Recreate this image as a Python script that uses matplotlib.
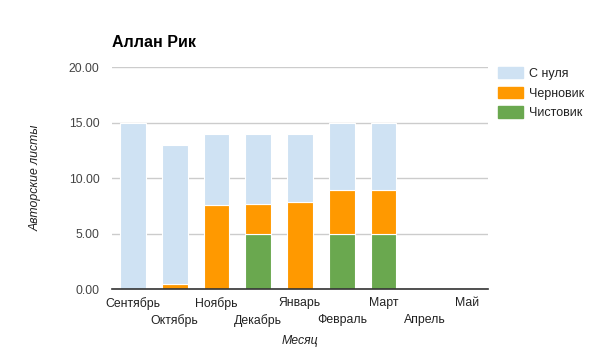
import numpy as np
import matplotlib
matplotlib.use("Agg")
import matplotlib.pyplot as plt
from matplotlib.patches import Patch

# данные
months = ["Сентябрь", "Октябрь", "Ноябрь", "Декабрь", "Январь",
          "Февраль", "Март", "Апрель", "Май"]
chistovik = [0, 0, 0, 5.0, 0, 5.0, 5.0, 0, 0]
chernovik = [0, 0.5, 7.6, 2.7, 7.9, 3.9, 3.9, 0, 0]
s_nulya = [15.0, 12.5, 6.4, 6.3, 6.1, 6.1, 6.1, 0, 0]
y_ticks = [0, 5, 10, 15, 20]

c_blue = "#cfe2f3"
c_orange = "#ff9900"
c_green = "#6aa84f"

plt.rcParams["font.family"] = ["Arial", "Liberation Sans", "DejaVu Sans"]
fs = 8.8

fig = plt.figure(figsize=(5.9, 3.52), dpi=100)
ax = fig.add_axes([0.19, 0.1776, 0.637, 0.632])

x = np.arange(len(months))
w = 0.62
g = np.array(chistovik)
o = np.array(chernovik)
b = np.array(s_nulya)
ax.bar(x, g, w, color=c_green, edgecolor="white", linewidth=0.8, zorder=3)
ax.bar(x, o, w, bottom=g, color=c_orange, edgecolor="white", linewidth=0.8, zorder=3)
ax.bar(x, b, w, bottom=g + o, color=c_blue, edgecolor="white", linewidth=0.8, zorder=3)

ax.set_xlim(-0.5, len(months) - 0.5)
ax.set_ylim(0, 20)
ax.set_yticks(y_ticks)
ax.set_yticklabels(["%.2f" % v for v in y_ticks], fontsize=fs, color="#444444")
ax.yaxis.grid(True, color="#cccccc", linewidth=1, zorder=0)
ax.tick_params(axis="y", length=0, pad=9)
ax.tick_params(axis="x", length=0)
for s in ["top", "right", "left"]:
    ax.spines[s].set_visible(False)
ax.spines["bottom"].set_color("#333333")
ax.spines["bottom"].set_linewidth(1.2)
ax.spines["bottom"].set_zorder(4)

# подписи месяцев в два ряда
ax.set_xticks(x)
ax.set_xticklabels([])
for i, m in enumerate(months):
    dy = -5.5 if i % 2 == 0 else -17.5
    ax.annotate(m, (i, 0), xycoords=("data", "axes fraction"),
                xytext=(0, dy), textcoords="offset points",
                ha="center", va="top", fontsize=fs, color="#222222")

ax.annotate("Месяц", (0.5, 0), xycoords="axes fraction", xytext=(0, -32.5),
            textcoords="offset points", ha="center", va="top",
            fontsize=fs, style="italic", color="#222222")
fig.text(0.06, 0.495, "Авторские листы", rotation=90, ha="center", va="center",
         fontsize=fs, style="italic", color="#222222")
fig.text(0.19, 0.88, "Аллан Рик", fontsize=11.5, fontweight="bold", ha="left", va="center")

handles = [Patch(color=c_blue), Patch(color=c_orange), Patch(color=c_green)]
fig.legend(handles, ["С нуля", "Черновик", "Чистовик"], loc="upper left",
           bbox_to_anchor=(0.844, 0.81), frameon=False, fontsize=9,
           borderpad=0, borderaxespad=0,
           handlelength=2.0, handleheight=1.0, labelspacing=0.55, handletextpad=0.45,
           labelcolor="#222222")

fig.savefig("out.png", dpi=100)
